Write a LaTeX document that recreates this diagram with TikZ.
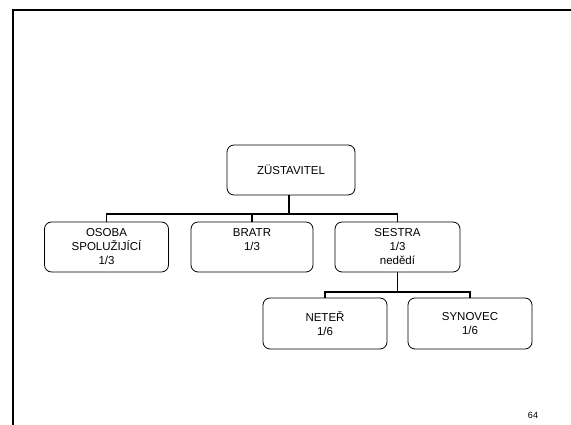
\documentclass[tikz,border=0pt]{standalone}
\usepackage{fontspec}
\setmainfont{Liberation Sans}
\begin{document}
\begin{tikzpicture}[x=1pt,y=1pt,
    osoba/.style={draw,rounded corners=7pt,line width=0.8pt,align=center,
        minimum width=124,minimum height=50,inner sep=2pt,
        font=\fontsize{11.5}{14}\selectfont},
    vazba/.style={line width=1.5pt}]
    \useasboundingbox (0,0) rectangle (571,425);
    % ramecek
    \draw[line width=2pt] (13,0) -- (13,414.5) -- (571,414.5);
    % osoby
    \node[osoba,minimum width=128] (zust) at (291,255) {ZÜSTAVITEL};
    \node[osoba] (spolu) at (106.5,178) {OSOBA\\SPOLUŽIJÍCÍ\\1/3};
    \node[osoba,minimum width=122] (bratr) at (252,178) {BRATR\\1/3\\~};
    \node[osoba,minimum width=125] (sestra) at (397.5,178) {SESTRA\\1/3\\nedědí};
    \node[osoba,minimum height=51] (neter) at (325,101.5) {NETEŘ\\1/6};
    \node[osoba,minimum height=51] (synovec) at (470,101.5) {SYNOVEC\\1/6};
    % vazby
    \coordinate (sber) at (289,211);
    \coordinate (sber2) at (397.5,133);
    \draw[vazba] (sber |- zust.south) -- (sber);
    \draw[vazba] (spolu.north) |- (sber) -| (sestra.north);
    \draw[vazba] (bratr.north) -- (bratr.north |- sber);
    \draw[vazba] (sestra.south) -- (sber2);
    \draw[vazba] (neter.north) |- (sber2) -| (synovec.north);
    % cislo strany
    \node[font=\fontsize{9}{10}\selectfont] (strana) at (533,10) {64};
\end{tikzpicture}
\end{document}
